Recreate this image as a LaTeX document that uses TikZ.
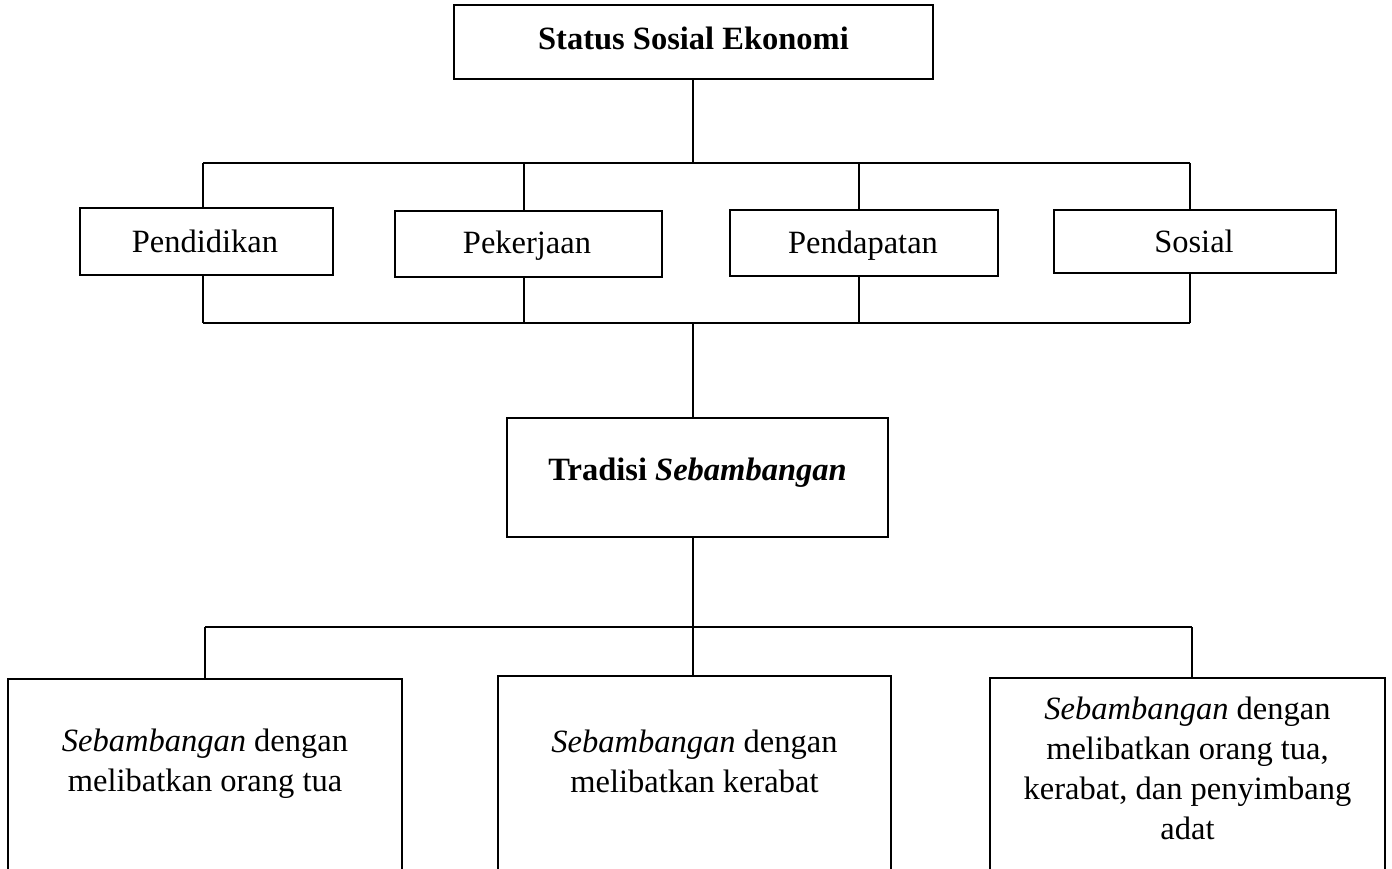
\documentclass[tikz,border=0pt]{standalone}
\usepackage{fontspec}
\setmainfont{Liberation Serif}
\begin{document}
\begin{tikzpicture}[x=1pt,y=-1pt,
  box/.style={draw=black,line width=2pt,inner sep=0pt,rectangle},
  conn/.style={draw=black,line width=1.5pt},
  lbl/.style={inner sep=0pt,align=center,font=\fontsize{32.5}{40}\selectfont}]
\useasboundingbox (0,0) rectangle (1392,869);
\clip (0,0) rectangle (1392,869);
% boxes
\node[box,minimum width=479pt,minimum height=74pt] (top) at (693.5,42) {};
\node[lbl,anchor=base] (toptxt) at (693.5,50) {\textbf{Status Sosial Ekonomi}};
\node[box,minimum width=253pt,minimum height=67pt] (pend) at (206.5,241.5) {};
\node[lbl,anchor=base] (pendtxt) at (205,252) {Pendidikan};
\node[box,minimum width=267pt,minimum height=66pt] (peke) at (528.5,244) {};
\node[lbl,anchor=base] (peketxt) at (527,253) {Pekerjaan};
\node[box,minimum width=268pt,minimum height=66pt] (pdpt) at (864,243) {};
\node[lbl,anchor=base] (pdpttxt) at (863,253) {Pendapatan};
\node[box,minimum width=282pt,minimum height=63pt] (sos) at (1195,241.5) {};
\node[lbl,anchor=base] (sostxt) at (1194,252) {Sosial};
\node[box,minimum width=381pt,minimum height=119pt] (trad) at (697.5,477.5) {};
\node[lbl,anchor=base] (tradtxt) at (697.5,480) {\textbf{Tradisi \textit{Sebambangan}}};
\node[box,minimum width=394pt,minimum height=260pt] (b1) at (205,809) {};
\node[lbl] (b1txt) at (205,764) {\textit{Sebambangan} dengan\\melibatkan orang tua};
\node[box,minimum width=393pt,minimum height=260pt] (b2) at (694.5,806) {};
\node[lbl] (b2txt) at (694.5,761) {\textit{Sebambangan} dengan\\melibatkan kerabat};
\node[box,minimum width=395pt,minimum height=260pt] (b3) at (1187.5,808) {};
\node[lbl] (b3txt) at (1187.5,768) {\textit{Sebambangan} dengan\\melibatkan orang tua,\\kerabat, dan penyimbang\\adat};
% bus coordinates
\coordinate (t1) at (203,163);
\coordinate (t2) at (524,163);
\coordinate (t3) at (859,163);
\coordinate (t4) at (1190,163);
\coordinate (tm) at (693,163);
\coordinate (u1) at (203,323);
\coordinate (u2) at (524,323);
\coordinate (u3) at (859,323);
\coordinate (u4) at (1190,323);
\coordinate (um) at (693,323);
\coordinate (w1) at (205,627);
\coordinate (w2) at (693,627);
\coordinate (w3) at (1192,627);
% connectors
\draw[conn] (top.south -| tm) -- (tm);
\draw[conn] (t1) -- (t4);
\draw[conn] (t1) -- (t1 |- pend.north);
\draw[conn] (t2) -- (t2 |- peke.north);
\draw[conn] (t3) -- (t3 |- pdpt.north);
\draw[conn] (t4) -- (t4 |- sos.north);
\draw[conn] (u1 |- pend.south) -- (u1);
\draw[conn] (u2 |- peke.south) -- (u2);
\draw[conn] (u3 |- pdpt.south) -- (u3);
\draw[conn] (u4 |- sos.south) -- (u4);
\draw[conn] (u1) -- (u4);
\draw[conn] (um) -- (um |- trad.north);
\draw[conn] (trad.south -| w2) -- (w2 |- b2.north);
\draw[conn] (w1) -- (w3);
\draw[conn] (w1) -- (w1 |- b1.north);
\draw[conn] (w3) -- (w3 |- b3.north);
\end{tikzpicture}
\end{document}
